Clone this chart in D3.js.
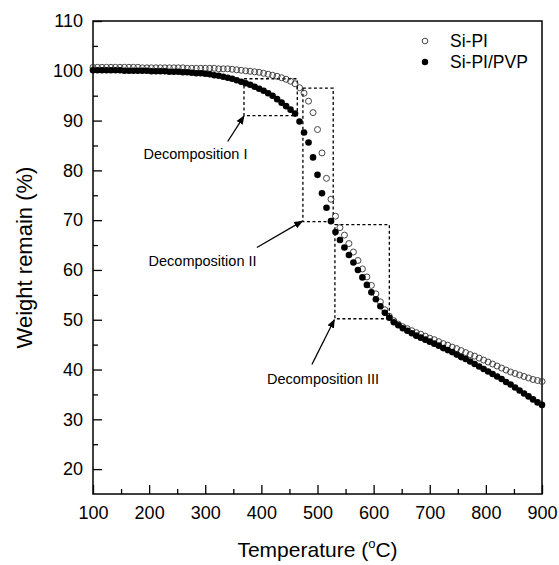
<!DOCTYPE html>
<html>
<head>
<meta charset="utf-8">
<script src="https://cdn.jsdelivr.net/npm/d3@7"></script>
<style>
  body { margin: 0; background: #fff; }
  svg text { font-family: Arial, "Liberation Sans", sans-serif; fill: #000; }
</style>
</head>
<body>
<svg id="chart" width="559" height="565"></svg>
<script>
// temperature (°C) of each recorded point
const temps = [100, 108, 116, 124, 132, 140, 148, 156, 164, 172, 180, 188, 196, 204, 212, 220, 228, 236, 244, 252,
    260, 268, 276, 284, 292, 300, 308, 316, 324, 332, 340, 348, 356, 364, 372, 380, 388, 396, 404, 412,
    420, 428, 436, 444, 452, 460, 468, 476, 484, 492, 500, 508, 516, 524, 532, 540, 548, 556, 564, 572,
    580, 588, 596, 604, 612, 620, 628, 636, 644, 652, 660, 668, 676, 684, 692, 700, 708, 716, 724, 732,
    740, 748, 756, 764, 772, 780, 788, 796, 804, 812, 820, 828, 836, 844, 852, 860, 868, 876, 884, 892, 900];

const siPI = [100.7, 100.7, 100.7, 100.7, 100.7, 100.7, 100.7, 100.7, 100.7, 100.7, 100.7, 100.6, 100.6, 100.6, 100.6, 100.6, 100.6, 100.6, 100.6, 100.6,
    100.6, 100.5, 100.5, 100.5, 100.5, 100.5, 100.5, 100.5, 100.4, 100.4, 100.4, 100.3, 100.2, 100.1, 100.0, 99.9, 99.8, 99.7, 99.5, 99.3,
    99.1, 98.9, 98.6, 98.3, 97.9, 97.4, 96.6, 95.5, 93.9, 91.6, 88.2, 83.5, 78.4, 74.2, 70.8, 68.5, 67.0, 65.3, 63.6, 61.9,
    60.2, 58.6, 56.9, 55.2, 53.6, 52.0, 50.7, 49.8, 49.1, 48.6, 48.2, 47.8, 47.4, 47.1, 46.7, 46.3, 46.0, 45.6, 45.2, 44.9,
    44.5, 44.2, 43.8, 43.4, 43.0, 42.7, 42.3, 41.9, 41.5, 41.1, 40.7, 40.3, 39.9, 39.5, 39.2, 38.9, 38.6, 38.3, 38.0, 37.8, 37.6];

const siPIPVP = [100.1, 100.1, 100.1, 100.1, 100.1, 100.1, 100.1, 100.0, 100.0, 100.0, 100.0, 100.0, 100.0, 99.9, 99.9, 99.9, 99.9, 99.8, 99.8, 99.8,
    99.7, 99.7, 99.6, 99.5, 99.5, 99.4, 99.3, 99.1, 99.0, 98.8, 98.6, 98.4, 98.1, 97.8, 97.5, 97.2, 96.8, 96.4, 96.0, 95.5,
    95.0, 94.3, 93.6, 92.9, 92.2, 91.4, 89.8, 87.6, 85.6, 82.6, 79.1, 75.4, 72.5, 69.8, 67.6, 66.0, 64.5, 63.0, 61.5, 60.0,
    58.5, 57.0, 55.5, 54.1, 52.7, 51.4, 50.4, 49.5, 48.9, 48.3, 47.8, 47.3, 46.8, 46.4, 46.0, 45.6, 45.2, 44.8, 44.3, 43.9,
    43.5, 43.0, 42.5, 42.1, 41.6, 41.1, 40.6, 40.1, 39.6, 39.1, 38.6, 38.1, 37.5, 37.0, 36.4, 35.8, 35.2, 34.6, 34.0, 33.4, 32.9];

const seriesNames = ['Si-PI', 'Si-PI/PVP'];
const xTicks = [100, 200, 300, 400, 500, 600, 700, 800, 900];
const xMinorTicks = [150, 250, 350, 450, 550, 650, 750, 850];
const yTicks = [20, 30, 40, 50, 60, 70, 80, 90, 100, 110];
const yMinorTicks = [25, 35, 45, 55, 65, 75, 85, 95, 105];

// dashed boxes around each decomposition step: [tMin, tMax, wMin, wMax]
const boxes = [[369, 464, 91.0, 98.4], [474, 528, 69.7, 96.5], [531, 628, 50.2, 69.1]];
// annotation labels: [text, t, weight] (text start / baseline)
const labels = [['Decomposition I', 190, 82.2], ['Decomposition II', 199, 60.8], ['Decomposition III', 410, 37.1]];
// arrows: [tFrom, wFrom, tTo, wTo]
const arrows = [[340, 85.8, 369, 90.9], [392, 64.5, 473, 69.8], [490, 41.0, 530, 50.0]];

const svg = d3.select('#chart');
const margin = {top: 21, right: 17, bottom: 71, left: 93};
const width = 559 - margin.left - margin.right;
const height = 565 - margin.top - margin.bottom;

const x = d3.scaleLinear().domain([100, 900]).range([0, width]);
const y = d3.scaleLinear().domain([15, 110]).range([height, 0]);

const g = svg.append('g').attr('transform', `translate(${margin.left},${margin.top})`);

// axes (ticks pointing inward)
g.append('g')
    .attr('transform', `translate(0,${height})`)
    .call(d3.axisBottom(x).tickValues(xTicks).tickSize(-9).tickPadding(12).tickFormat(d3.format('d')));
g.append('g')
    .call(d3.axisLeft(y).tickValues(yTicks).tickSize(-9).tickPadding(10).tickFormat(d3.format('d')));
g.append('g')
    .attr('transform', `translate(0,${height})`)
    .call(d3.axisBottom(x).tickValues(xMinorTicks).tickSize(-5).tickFormat(''));
g.append('g')
    .call(d3.axisLeft(y).tickValues(yMinorTicks).tickSize(-5).tickFormat(''));

g.selectAll('.domain').remove();
g.selectAll('.tick line').attr('stroke', '#000').attr('stroke-width', 1.3);
g.selectAll('.tick text').style('font-size', '18px').attr('fill', '#000')
    .style('font-family', 'Arial, "Liberation Sans", sans-serif');

// frame
g.append('rect')
    .attr('width', width).attr('height', height)
    .attr('fill', 'none').attr('stroke', '#000').attr('stroke-width', 1.5);

// axis titles
const xTitle = svg.append('text')
    .attr('x', margin.left + width / 2).attr('y', 557)
    .attr('text-anchor', 'middle')
    .style('font-size', '21px');
xTitle.append('tspan').text('Temperature (');
xTitle.append('tspan').attr('dy', -9).style('font-size', '13px').text('o');
xTitle.append('tspan').attr('dy', 9).text('C)');

svg.append('text')
    .attr('transform', `translate(32,${margin.top + height / 2}) rotate(-90)`)
    .attr('text-anchor', 'middle')
    .style('font-size', '22px')
    .text('Weight remain (%)');

// decomposition boxes
g.selectAll('.box')
    .data(boxes)
    .enter().append('rect')
    .attr('class', 'box')
    .attr('x', d => x(d[0]))
    .attr('y', d => y(d[3]))
    .attr('width', d => x(d[1]) - x(d[0]))
    .attr('height', d => y(d[2]) - y(d[3]))
    .attr('fill', 'none')
    .attr('stroke', '#000')
    .attr('stroke-width', 1.3)
    .attr('stroke-dasharray', '3,2.5');

// arrow heads
svg.append('defs').append('marker')
    .attr('id', 'arrow')
    .attr('viewBox', '0 0 10 10')
    .attr('refX', 9).attr('refY', 5)
    .attr('markerWidth', 9).attr('markerHeight', 9)
    .attr('markerUnits', 'userSpaceOnUse')
    .attr('orient', 'auto')
    .append('path')
    .attr('d', 'M0,1 L10,5 L0,9 Z')
    .attr('fill', '#000');

g.selectAll('.arrow')
    .data(arrows)
    .enter().append('line')
    .attr('class', 'arrow')
    .attr('x1', d => x(d[0])).attr('y1', d => y(d[1]))
    .attr('x2', d => x(d[2])).attr('y2', d => y(d[3]))
    .attr('stroke', '#000')
    .attr('stroke-width', 1.3)
    .attr('marker-end', 'url(#arrow)');

g.selectAll('.label')
    .data(labels)
    .enter().append('text')
    .attr('class', 'label')
    .attr('x', d => x(d[1]))
    .attr('y', d => y(d[2]))
    .style('font-size', '14.5px')
    .text(d => d[0]);

// data points: open circles first, filled on top
const openData = temps.map((t, i) => ({t, w: siPI[i]}));
const filledData = temps.map((t, i) => ({t, w: siPIPVP[i]}));

g.selectAll('.open')
    .data(openData)
    .enter().append('circle')
    .attr('class', 'open')
    .attr('cx', d => x(d.t))
    .attr('cy', d => y(d.w))
    .attr('r', 3)
    .attr('fill', 'none')
    .attr('stroke', '#333')
    .attr('stroke-width', 0.9);

g.selectAll('.filled')
    .data(filledData)
    .enter().append('circle')
    .attr('class', 'filled')
    .attr('cx', d => x(d.t))
    .attr('cy', d => y(d.w))
    .attr('r', 3.3)
    .attr('fill', '#000');

// legend
const legend = svg.append('g').attr('transform', 'translate(425,41)');
legend.append('circle').attr('r', 2.8).attr('fill', 'none').attr('stroke', '#333').attr('stroke-width', 0.9);
legend.append('circle').attr('cy', 21).attr('r', 3.2).attr('fill', '#000');
legend.selectAll('text')
    .data(seriesNames)
    .enter().append('text')
    .attr('x', 25)
    .attr('y', (d, i) => i * 21 + 6)
    .style('font-size', '17.5px')
    .text(d => d);
</script>
</body>
</html>
